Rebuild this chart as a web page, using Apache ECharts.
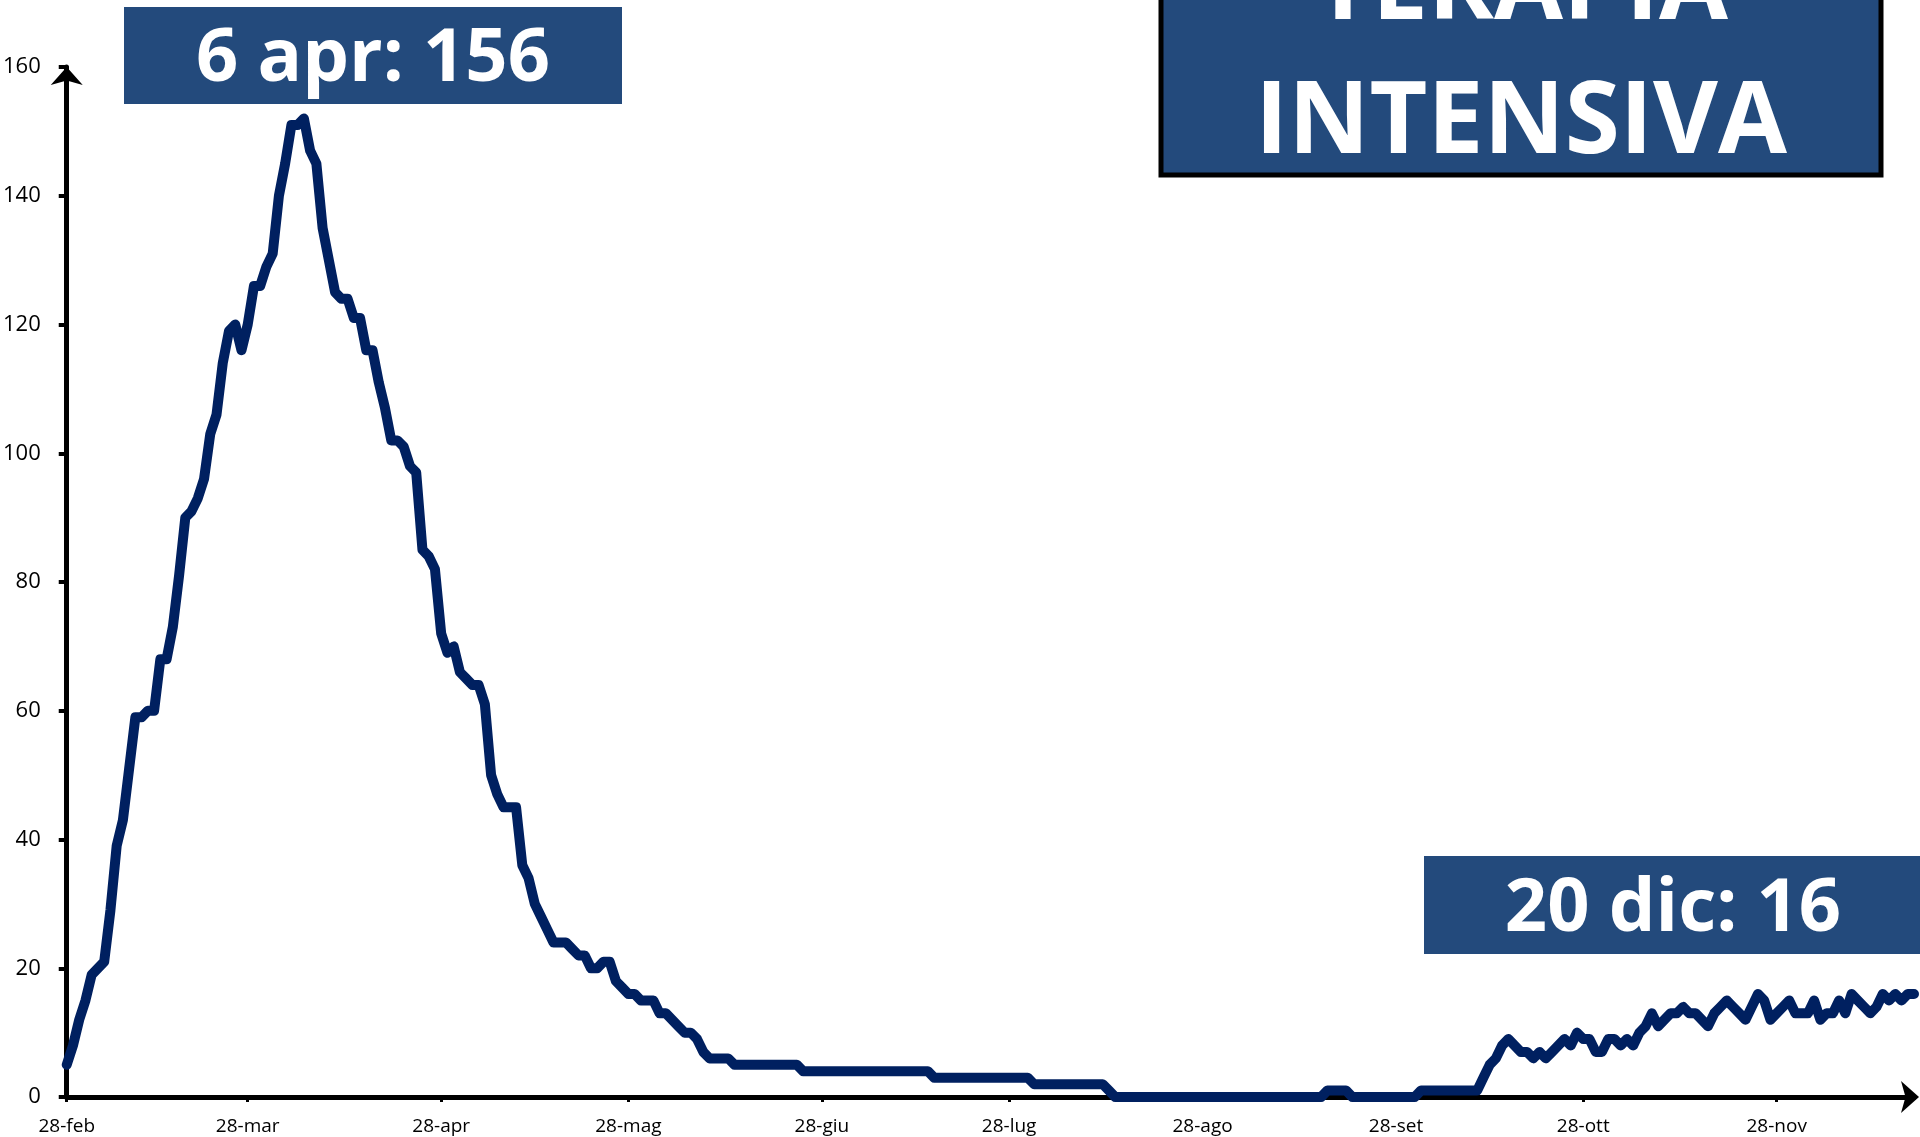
<!DOCTYPE html>
<html>
<head>
<meta charset="utf-8">
<script src="https://cdn.jsdelivr.net/npm/echarts@6/dist/echarts.min.js"></script>
<style>
html,body{margin:0;padding:0;background:#fff;}
#chart{width:1920px;height:1137px;}
</style>
</head>
<body>
<div id="chart"></div>
<script>
// Daily values, 28 Feb 2020 -> 20 Dec 2020
const valFeb = [5, 8];
const valMar = [12, 15, 19, 20, 21, 29, 39, 43, 51, 59, 59, 60, 60, 68, 68, 73, 81, 90, 91, 93, 96, 103, 106, 114, 119, 120, 116, 120, 126, 126, 129];
const valApr = [131, 140, 145, 151, 151, 152, 147, 145, 135, 130, 125, 124, 124, 121, 121, 116, 116, 111, 107, 102, 102, 101, 98, 97, 85, 84, 82, 72, 69, 70];
const valMag = [66, 65, 64, 64, 61, 50, 47, 45, 45, 45, 36, 34, 30, 28, 26, 24, 24, 24, 23, 22, 22, 20, 20, 21, 21, 18, 17, 16, 16, 15, 15];
const valGiu = [15, 13, 13, 12, 11, 10, 10, 9, 7, 6, 6, 6, 6, 5, 5, 5, 5, 5, 5, 5, 5, 5, 5, 5, 4, 4, 4, 4, 4, 4];
const valLug = [4, 4, 4, 4, 4, 4, 4, 4, 4, 4, 4, 4, 4, 4, 4, 3, 3, 3, 3, 3, 3, 3, 3, 3, 3, 3, 3, 3, 3, 3, 3];
const valAgo = [2, 2, 2, 2, 2, 2, 2, 2, 2, 2, 2, 2, 1, 0, 0, 0, 0, 0, 0, 0, 0, 0, 0, 0, 0, 0, 0, 0, 0, 0, 0];
const valSet = [0, 0, 0, 0, 0, 0, 0, 0, 0, 0, 0, 0, 0, 0, 0, 0, 1, 1, 1, 1, 0, 0, 0, 0, 0, 0, 0, 0, 0, 0];
const valOtt = [0, 1, 1, 1, 1, 1, 1, 1, 1, 1, 1, 3, 5, 6, 8, 9, 8, 7, 7, 6, 7, 6, 7, 8, 9, 8, 10, 9, 9, 7, 7];
const valNov = [9, 9, 8, 9, 8, 10, 11, 13, 11, 12, 13, 13, 14, 13, 13, 12, 11, 13, 14, 15, 14, 13, 12, 14, 16, 15, 12, 13, 14, 15];
const valDic = [13, 13, 13, 15, 12, 13, 13, 15, 13, 16, 15, 14, 13, 14, 16, 15, 16, 15, 16, 16];

// Month abbreviations and the first day of each block
const monthNames = ['feb', 'mar', 'apr', 'mag', 'giu', 'lug', 'ago', 'set', 'ott', 'nov', 'dic'];
const monthStartDay = [28, 1, 1, 1, 1, 1, 1, 1, 1, 1, 1];
const monthValues = [valFeb, valMar, valApr, valMag, valGiu, valLug, valAgo, valSet, valOtt, valNov, valDic];

// Tick labels shown on the x axis
const tickLabels = ['28-feb', '28-mar', '28-apr', '28-mag', '28-giu', '28-lug', '28-ago', '28-set', '28-ott', '28-nov'];

// Y axis ticks
const yMin = 0, yMax = 160, yStep = 20;

// Annotation texts
const peakText = '6 apr: 156';
const lastText = '20 dic: 16';
const titleLines = ['TERAPIA', 'INTENSIVA'];

const categories = [];
const values = [];
monthValues.forEach((arr, m) => {
  arr.forEach((v, i) => {
    categories.push((monthStartDay[m] + i) + '-' + monthNames[m]);
    values.push(v);
  });
});

const BOX = '#234A7C';
const LINE = '#002060';
const FONT = '"Open Sans", "DejaVu Sans", sans-serif';

const chart = echarts.init(document.getElementById('chart'), null, {renderer: 'canvas'});
const isTick = (idx, val) => tickLabels.indexOf(categories[idx]) >= 0;

chart.setOption({
  animation: false,
  backgroundColor: '#ffffff',
  grid: {left: 50, right: 6, top: 67, bottom: 40, containLabel: false},
  xAxis: {
    type: 'category',
    data: categories,
    boundaryGap: false,
    axisLine: {show: true, lineStyle: {color: '#000', width: 5}, symbol: ['none', 'arrow'], symbolSize: [24, 18], symbolOffset: [0, 5]},
    axisTick: {show: true, interval: isTick, length: 5, lineStyle: {color: '#000', width: 3}},
    axisLabel: {interval: isTick, color: '#000', fontFamily: FONT, fontSize: 19, margin: 20},
    splitLine: {show: false}
  },
  yAxis: {
    type: 'value',
    min: yMin, max: yMax, interval: yStep,
    axisLine: {show: true, lineStyle: {color: '#000', width: 5}, symbol: ['none', 'arrow'], symbolSize: [24, 18]},
    axisTick: {show: true, length: 8, lineStyle: {color: '#000', width: 4}},
    axisLabel: {color: '#000', fontFamily: FONT, fontSize: 22, margin: 26},
    splitLine: {show: false}
  },
  series: [{
    type: 'line',
    data: values,
    showSymbol: false,
    symbol: 'none',
    clip: false,
    lineStyle: {color: LINE, width: 10, join: 'round', cap: 'round'},
    z: 5
  }],
  graphic: [
    {type: 'rect', shape: {x: 124, y: 7, width: 498, height: 97}, style: {fill: BOX}, z: 10},
    {type: 'text', x: 373, y: 60, z: 11, style: {text: peakText, fill: '#fff', fontFamily: FONT, fontWeight: 'bold', fontSize: 74, align: 'center', verticalAlign: 'middle'}},
    {type: 'rect', shape: {x: 1161, y: -150, width: 720, height: 325}, style: {fill: BOX, stroke: '#000', lineWidth: 5}, z: 10},
    {type: 'text', x: 1521, y: -9, z: 11, style: {text: titleLines[0], fill: '#fff', fontFamily: FONT, fontWeight: 'bold', fontSize: 100, align: 'center', verticalAlign: 'middle'}},
    {type: 'text', x: 1521, y: 125, z: 11, style: {text: titleLines[1], fill: '#fff', fontFamily: FONT, fontWeight: 'bold', fontSize: 100, align: 'center', verticalAlign: 'middle'}},
    {type: 'rect', shape: {x: 1424, y: 856, width: 500, height: 98}, style: {fill: BOX}, z: 10},
    {type: 'text', x: 1673, y: 910, z: 11, style: {text: lastText, fill: '#fff', fontFamily: FONT, fontWeight: 'bold', fontSize: 74, align: 'center', verticalAlign: 'middle'}}
  ]
});
</script>
</body>
</html>
